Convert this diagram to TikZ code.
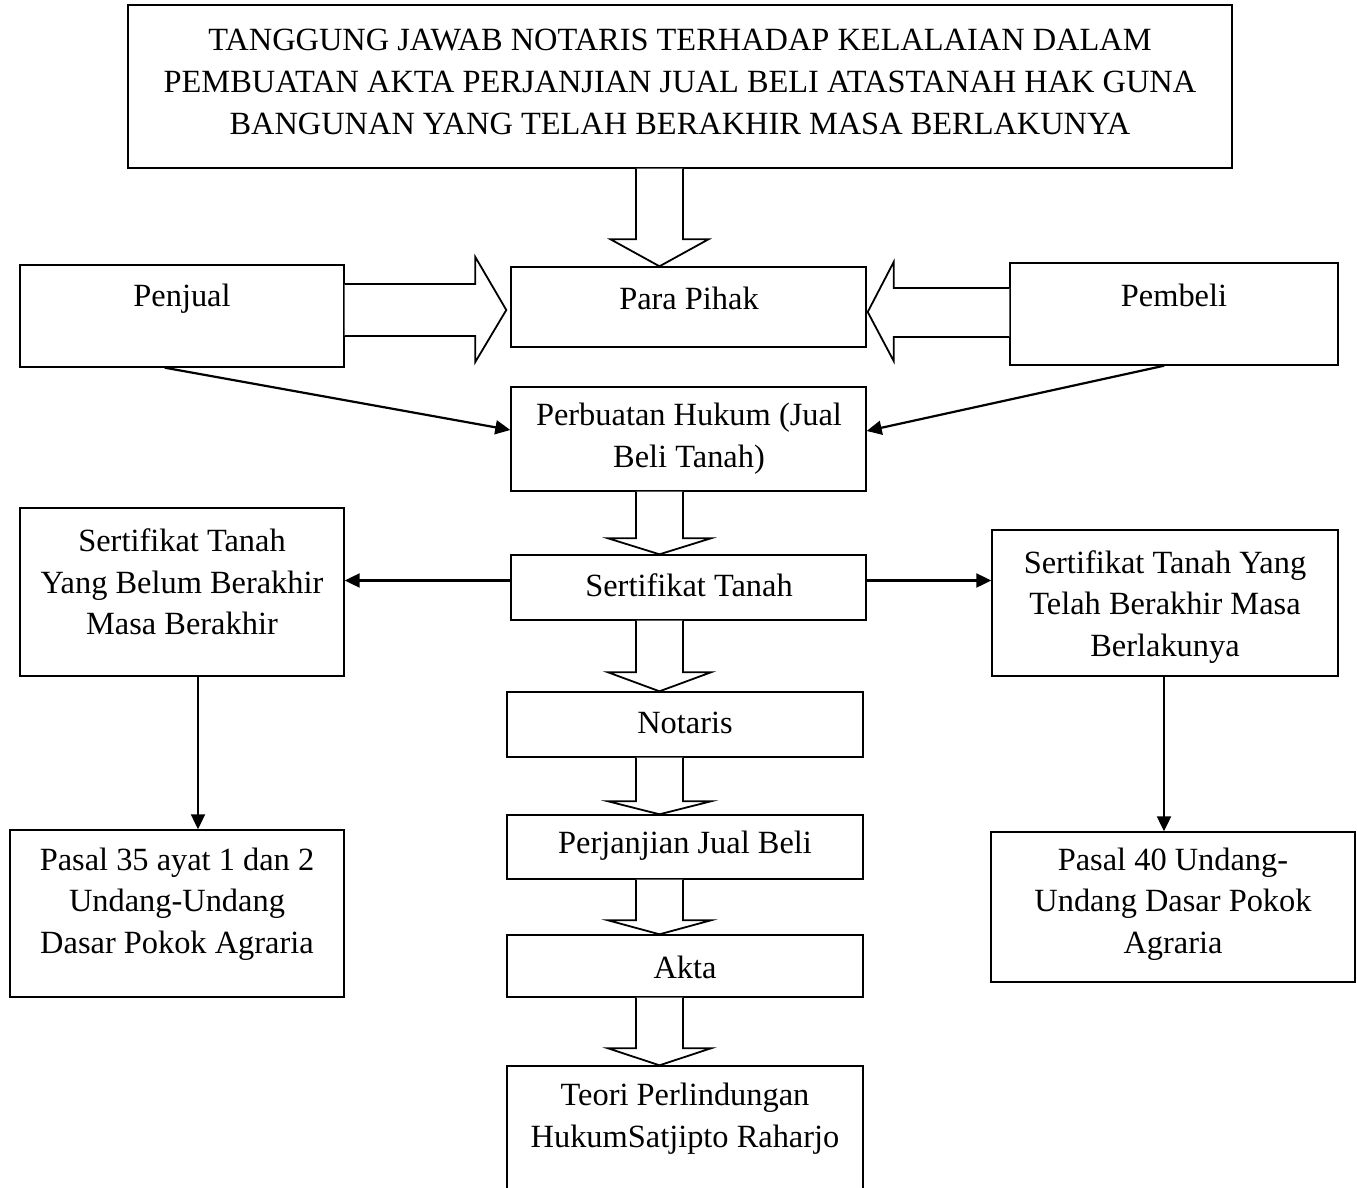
\documentclass[tikz,border=0pt]{standalone}
\usepackage{fontspec}
\setmainfont{Liberation Serif}
\usetikzlibrary{arrows.meta,calc}
\begin{document}
\begin{tikzpicture}[x=0.5pt,y=-0.5pt,
  box/.style={draw,line width=0.7pt,inner sep=0pt,minimum width=#1},
  bh/.style={minimum height=#1},
  txt/.style={align=center,inner sep=0pt,font=\fontsize{16.2}{20.8}\selectfont},
  blk/.style={draw,line width=0.9pt,fill=white,line join=miter},
  thin/.style={line width=1.1pt,-{Triangle[length=7.5pt,width=7pt]}}]
\useasboundingbox (0,0) rectangle (1357,1188);
\clip (0,0) rectangle (1357,1188);
\coordinate (ax) at (659.5,0);
% boxes
\node[box=552pt,bh=81.5pt] (title) at (680,86.5) {};
\node[box=162pt,bh=51pt] (penjual) at (182,316) {};
\node[box=177.5pt,bh=40pt] (pihak) at (688.5,307) {};
\node[box=164pt,bh=51pt] (pembeli) at (1174,314) {};
\node[box=177.5pt,bh=52pt] (perbuatan) at (688.5,439) {};
\node[box=177.5pt,bh=32.5pt] (sert) at (688.5,587.5) {};
\node[box=162pt,bh=84pt] (left) at (182,592) {};
\node[box=173pt,bh=73pt] (right) at (1165,603) {};
\node[box=167pt,bh=83.5pt] (p35) at (177,913.5) {};
\node[box=182pt,bh=75pt] (p40) at (1173,907) {};
\node[box=178pt,bh=32.5pt] (notaris) at (685,724.5) {};
\node[box=178pt,bh=32pt] (perj) at (685,847) {};
\node[box=178pt,bh=31pt] (akta) at (685,966) {};
\node[box=178pt,bh=82pt] (teori) at (685,1148) {};
% texts
\node[txt] (titleT) at (680,82) {TANGGUNG JAWAB NOTARIS TERHADAP KELALAIAN DALAM\\PEMBUATAN AKTA PERJANJIAN JUAL BELI ATASTANAH HAK GUNA\\BANGUNAN YANG TELAH BERAKHIR MASA BERLAKUNYA};
\node[txt] (penjualT) at (182,299) {Penjual};
\node[txt] (pihakT) at (689,298) {Para Pihak};
\node[txt] (pembeliT) at (1174,295) {Pembeli};
\node[txt] (perbuatanT) at (689,439) {Perbuatan Hukum (Jual\\Beli Tanah)};
\node[txt] (sertT) at (689,585) {Sertifikat Tanah};
\node[txt] (leftT) at (182,582) {Sertifikat Tanah\\Yang Belum Berakhir\\Masa Berakhir};
\node[txt] (rightT) at (1165,607) {Sertifikat Tanah Yang\\Telah Berakhir Masa\\Berlakunya};
\node[txt] (p35T) at (177,904) {Pasal 35 ayat 1 dan 2\\Undang-Undang\\Dasar Pokok Agraria};
\node[txt] (p40T) at (1173,904) {Pasal 40 Undang-\\Undang Dasar Pokok\\Agraria};
\node[txt] (notarisT) at (685,723) {Notaris};
\node[txt] (perjT) at (685,846) {Perjanjian Jual Beli};
\node[txt] (aktaT) at (685,967) {Akta};
\node[txt] (teoriT) at (685,1119) {Teori Perlindungan\\HukumSatjipto Raharjo};
% block arrows down
\newcommand\blockdown[4]{%
\draw[blk] ($(ax |- #1.south)+(-23.5,0)$) -- ($(ax |- #2.north)+(-23.5,-#3)$) -- ($(ax |- #2.north)+(-#4,-#3)$) -- (ax |- #2.north) -- ($(ax |- #2.north)+(#4,-#3)$) -- ($(ax |- #2.north)+(23.5,-#3)$) -- ($(ax |- #1.south)+(23.5,0)$);}
\blockdown{title}{pihak}{27}{49}
\blockdown{perbuatan}{sert}{16}{51.5}
\blockdown{sert}{notaris}{19}{51.5}
\blockdown{notaris}{perj}{13}{51.5}
\blockdown{perj}{akta}{14}{51.5}
\blockdown{akta}{teori}{17}{51.5}
% horizontal block arrows
\draw[blk] (penjual.east |- 0,284) -- ($(pihak.west |- 0,284)+(-35,0)$) -- ($(pihak.west |- 0,257)+(-35,0)$) -- ($(pihak.west |- 0,310)+(-4,0)$) -- ($(pihak.west |- 0,362)+(-35,0)$) -- ($(pihak.west |- 0,336)+(-35,0)$) -- (penjual.east |- 0,336);
\draw[blk] (pembeli.west |- 0,288) -- ($(pihak.east |- 0,288)+(27,0)$) -- ($(pihak.east |- 0,262)+(27,0)$) -- ($(pihak.east |- 0,312)+(1,0)$) -- ($(pihak.east |- 0,361)+(27,0)$) -- ($(pihak.east |- 0,337)+(27,0)$) -- (pembeli.west |- 0,337);
% thin arrows
\draw[thin] ($(penjual.south west)!0.447!(penjual.south east)$) -- (perbuatan.west |- 0,430);
\draw[thin] ($(pembeli.south west)!0.47!(pembeli.south east)$) -- (perbuatan.east |- 0,431);
\draw[thin] ($(sert.west)+(0,-7)$) -- (left.east |- 0,580.5);
\draw[thin] ($(sert.east)+(0,-7)$) -- (right.west |- 0,580.5);
\draw[thin] (left.south -| 198,0) -- (p35.north -| 198,0);
\draw[thin] (right.south -| 1164,0) -- (p40.north -| 1164,0);
\end{tikzpicture}
\end{document}
